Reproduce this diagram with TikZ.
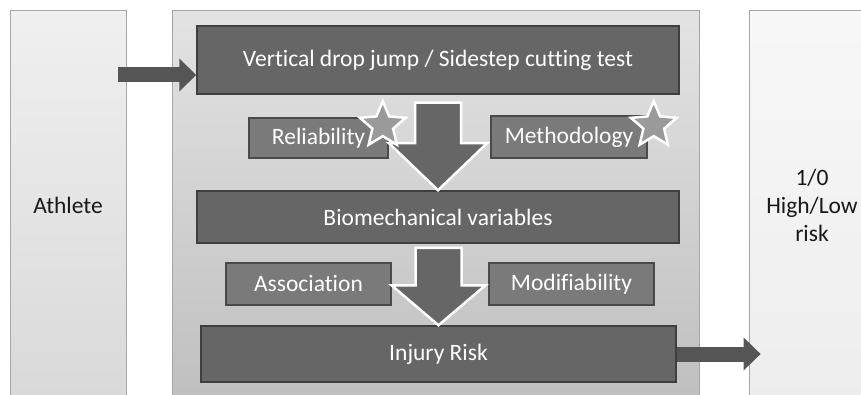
\documentclass[tikz,border=0pt]{standalone}
\usepackage{fontspec}
\setmainfont{Carlito}[Ligatures=NoCommon]
\usetikzlibrary{calc,arrows.meta,shapes.geometric}

\definecolor{panelline}{HTML}{A6A6A6}
\definecolor{boxfill}{HTML}{666666}
\definecolor{boxline}{HTML}{3F3F3F}
\definecolor{smallfill}{HTML}{7A7A7A}
\definecolor{smallline}{HTML}{4A4A4A}
\definecolor{arrowfill}{HTML}{555555}
\definecolor{starfill}{HTML}{9A9A9A}

\tikzset{
  panel/.style={draw=panelline, line width=0.8pt, minimum height=390pt, anchor=north, text=black!90},
  bigbox/.style={draw=boxline, fill=boxfill, line width=1.5pt, text=white, minimum width=482pt},
  smallbox/.style={draw=smallline, fill=smallfill, line width=1.5pt, text=white, minimum height=42pt},
  sidearrow/.style={draw=arrowfill, line width=15pt, -{Triangle[length=17pt,width=32pt]}},
  downarrow/.style={fill=boxfill, draw=white, line width=2.5pt, line join=miter},
  badge/.style={star, star points=5, star point ratio=2.2, minimum size=48pt, inner sep=0pt,
    draw=white, fill=starfill, line width=2.5pt}
}

\begin{document}
\begin{tikzpicture}[x=1pt, y=-1pt, font=\fontsize{23.5}{28}\selectfont]
\useasboundingbox (0,0) rectangle (861,395);
\clip (0,0) rectangle (861,395);

% the three columns
\node[panel, minimum width=116pt, top color=black!6, bottom color=black!15] (athlete) at (68,10) {Athlete};
\node[panel, minimum width=527pt, top color=black!11, bottom color=black!25] (frame) at (435.5,10) {};
\node[panel, minimum width=126pt, top color=black!3, bottom color=black!7, align=center] (outcome) at (812,10) {1/0\\High/Low\\risk};

% boxes
\node[bigbox, minimum height=68pt] (test) at (438,60) {Vertical drop jump / Sidestep cutting test};
\node[smallbox, minimum width=139pt, minimum height=40pt] (rel) at (318.5,138) {Reliability};
\node[smallbox, minimum width=156pt] (meth) at (569,137) {Methodology};
\node[bigbox, minimum height=52pt] (bio) at (438,217) {Biomechanical variables};
\node[smallbox, minimum width=165pt] (assoc) at (308.5,284) {Association};
\node[smallbox, minimum width=165pt] (modif) at (571.5,284) {Modifiability};
\node[bigbox, minimum width=475pt, minimum height=56pt] (risk) at (438.5,354) {Injury Risk};

% arrows in and out
\draw[sidearrow] ($(athlete.east|-test.west)+(-8,15)$) -- ($(test.west)+(0,15)$);
\draw[sidearrow] (risk.east) -- ($(outcome.west|-risk.east)+(12,0)$);

% block arrows down
\path[downarrow] let \p1=(test.south), \p2=(bio.north) in
  (\x2-23pt,\y1-8pt) -- (\x2+23pt,\y1-8pt) -- (\x2+23pt,\y2+47pt) -- (\x2+49pt,\y2+47pt)
  -- (\x2,\y2) -- (\x2-49pt,\y2+47pt) -- (\x2-23pt,\y2+47pt) -- cycle;
\path[downarrow] let \p1=(bio.south), \p2=(risk.north) in
  (\x2-23pt,\y1-4pt) -- (\x2+23pt,\y1-4pt) -- (\x2+23pt,\y2+40pt) -- (\x2+47pt,\y2+40pt)
  -- (\x2,\y2) -- (\x2-47pt,\y2+40pt) -- (\x2-23pt,\y2+40pt) -- cycle;

% stars
\node[badge] (relstar) at ($(rel.north east)+(-6,8)$) {};
\node[badge] (methstar) at ($(meth.north east)+(6,10)$) {};
\end{tikzpicture}
\end{document}
